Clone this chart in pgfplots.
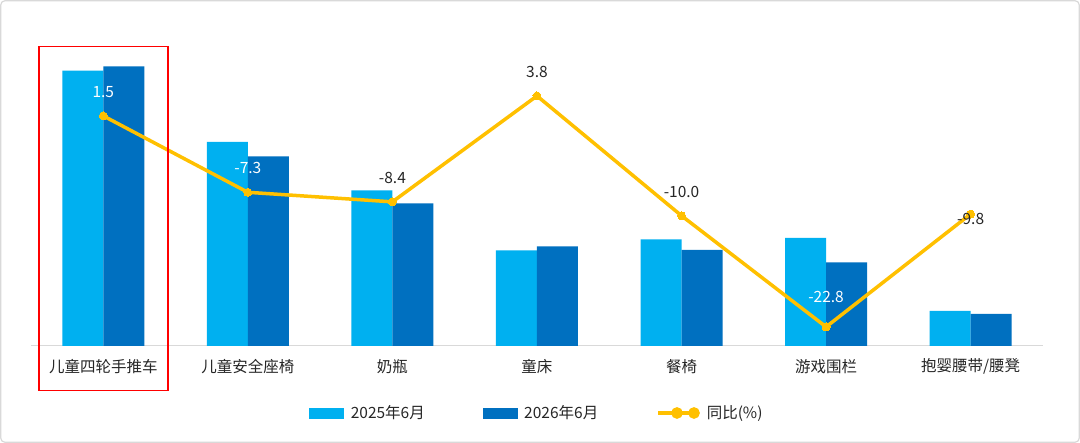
\documentclass[border=0pt]{standalone}
\usepackage{pgfplots}
\pgfplotsset{compat=1.18}
\usepackage{pgfplotstable}
\usepackage{fontspec}
\setmainfont{Noto Sans CJK SC}
\definecolor{c25}{HTML}{00B0F0}
\definecolor{c26}{HTML}{0070C0}
\definecolor{cl}{HTML}{FFC000}
\definecolor{gridg}{HTML}{D9D9D9}
\definecolor{txt}{HTML}{262626}

\pgfplotstableread{
x a b
0 275.3 279.7
1 204.0 189.7
2 155.7 142.7
3 95.7 99.7
4 106.7 96.0
5 108.0 83.7
6 35.0 32.0
}\bars

\pgfplotstableread{
x y
0 1.5
1 -7.3
2 -8.4
3 3.8
4 -10.0
5 -22.8
6 -9.8
}\yoy

\pgfplotstableread{
x y lab dy
0 1.5 1.5 24
1 -7.3 -7.3 24
5 -22.8 -22.8 30
}\yoywhite

\pgfplotstableread{
x y lab dy
2 -8.4 -8.4 24
3 3.8 3.8 24
4 -10.0 -10.0 24
6 -9.8 -9.8 -5
}\yoyblack

\begin{document}
\begin{tikzpicture}
\useasboundingbox (0,0) rectangle (1080pt,443pt);
\draw[gridg, line width=1.2pt, rounded corners=4pt, fill=white] (0.8pt,0.8pt) rectangle (1079.2pt,442.2pt);
\begin{axis}[
  at={(31pt,97pt)}, anchor=south west, scale only axis,
  width=1012pt, height=331pt,
  xmin=-0.5, xmax=6.5, ymin=0, ymax=331,
  ybar=0pt, bar width=41pt,
  axis x line*=bottom, axis y line=none,
  x axis line style={gridg, line width=1pt, -},
  xtick={0,...,6},
  xticklabels={儿童四轮手推车,儿童安全座椅,奶瓶,童床,餐椅,游戏围栏,抱婴腰带/腰凳},
  major tick length=0pt,
  xticklabel style={font=\fontsize{15.5}{18}\selectfont, text=txt, anchor=center, yshift=-20.7pt},
  clip=false,
]
\addplot[fill=c25, draw=none] table[x=x, y=a] {\bars};
\addplot[fill=c26, draw=none] table[x=x, y=b] {\bars};
\end{axis}
\begin{axis}[
  at={(31pt,97pt)}, anchor=south west, scale only axis,
  width=1012pt, height=331pt,
  xmin=-0.5, xmax=6.5, ymin=-25, ymax=13.12,
  hide x axis, hide y axis, clip=false,
  legend columns=3,
  legend style={at={(0.500,-0.2024)}, anchor=center, draw=none, fill=none,
    font=\fontsize{15.5}{18}\selectfont, text=txt,
    /tikz/every odd column/.append style={column sep=5pt},
    /tikz/every even column/.append style={column sep=56pt}},
]
\addlegendimage{legend image code/.code={\fill[c25] (0pt,-5pt) rectangle (34pt,5pt);}}
\addlegendentry{2025年6月}
\addlegendimage{legend image code/.code={\fill[c26] (0pt,-5pt) rectangle (34pt,5pt);}}
\addlegendentry{2026年6月}
\addplot[cl, line width=3.5pt, mark=*, mark size=4pt,
  mark options={solid, line width=0pt, fill=cl, draw=cl},
  legend image code/.code={\draw[cl, line width=3.5pt] (0pt,0pt) -- (38pt,0pt);
     \fill[cl] (19pt,0pt) circle (4pt); \fill[cl] (36pt,0pt) circle (4pt);},
] table[x=x, y=y] {\yoy};
\addlegendentry{同比(\%)}
\addplot[draw=none, mark=none, forget plot,
  nodes near coords, point meta=explicit symbolic,
  visualization depends on={\thisrow{dy} \as \dy},
  every node near coord/.style={anchor=center, yshift=\dy pt, text=white, font=\fontsize{15.5}{18}\selectfont},
] table[x=x, y=y, meta=lab] {\yoywhite};
\addplot[draw=none, mark=none, forget plot,
  nodes near coords, point meta=explicit symbolic,
  visualization depends on={\thisrow{dy} \as \dy},
  every node near coord/.style={anchor=center, yshift=\dy pt, text=txt, font=\fontsize{15.5}{18}\selectfont},
] table[x=x, y=y, meta=lab] {\yoyblack};
\end{axis}
\draw[red, line width=1.5pt] (39pt,52.3pt) rectangle (168pt,396.3pt);
\end{tikzpicture}
\end{document}
